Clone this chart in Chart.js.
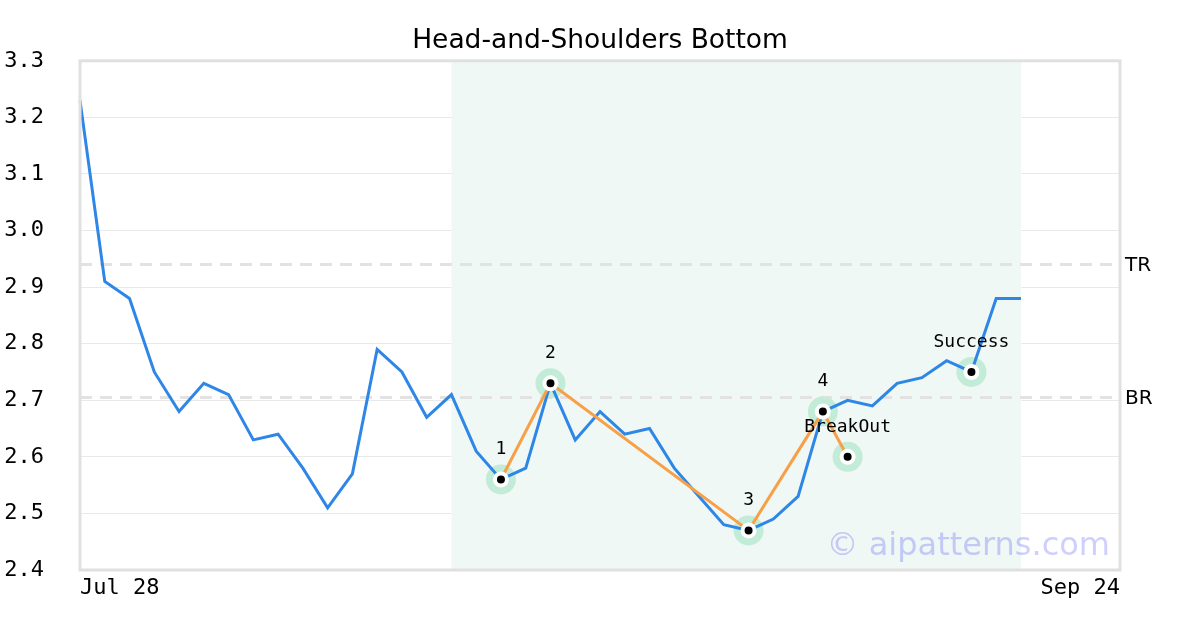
<!DOCTYPE html>
<html>
<head>
<meta charset="utf-8">
<title>Head-and-Shoulders Bottom</title>
<script src="https://cdn.jsdelivr.net/npm/chart.js@4.4.1/dist/chart.umd.min.js"></script>
<style>
  html, body { margin: 0; padding: 0; background: #ffffff; }
  #wrap { width: 1200px; height: 630px; position: relative; }
</style>
</head>
<body>
<div id="wrap"><canvas id="chart" width="1200" height="630"></canvas></div>
<script>
// Trading days shown on the x axis (only the first and last are labelled)
const dates = [
  'Jul 28', 'Jul 29', 'Jul 30', 'Jul 31', 'Aug 1',
  'Aug 4', 'Aug 5', 'Aug 6', 'Aug 7', 'Aug 8',
  'Aug 11', 'Aug 12', 'Aug 13', 'Aug 14', 'Aug 15',
  'Aug 18', 'Aug 19', 'Aug 20', 'Aug 21', 'Aug 22',
  'Aug 25', 'Aug 26', 'Aug 27', 'Aug 28', 'Aug 29',
  'Sep 1', 'Sep 2', 'Sep 3', 'Sep 4', 'Sep 5',
  'Sep 8', 'Sep 9', 'Sep 10', 'Sep 11', 'Sep 12',
  'Sep 15', 'Sep 16', 'Sep 17', 'Sep 18', 'Sep 19',
  'Sep 22', 'Sep 23', 'Sep 24'
];

// Closing prices
const closes = [
  3.23, 2.91, 2.88, 2.75, 2.68, 2.73, 2.71, 2.63, 2.64, 2.58,
  2.51, 2.57, 2.79, 2.75, 2.67, 2.71, 2.61, 2.56, 2.58, 2.73,
  2.63, 2.68, 2.64, 2.65, 2.58, 2.53, 2.48, 2.47, 2.49, 2.53,
  2.68, 2.70, 2.69, 2.73, 2.74, 2.77, 2.75, 2.88, 2.88
];

// Pattern pivots: 1, 2, 3, 4 and the breakout
const pivotIdx = [17, 19, 27, 30, 31];
const pivotVals = [2.56, 2.73, 2.47, 2.68, 2.60];
const pivotText = ['1', '2', '3', '4', 'BreakOut'];

// Target reached
const successIdx = [36];
const successVals = [2.75];
const successText = ['Success'];

// Reference levels
const levelNames = ['TR', 'BR'];
const levelVals = [2.94, 2.705];

// Pattern window (start / end index)
const windowIdx = [15, 38];

const yTicks = [2.4, 2.5, 2.6, 2.7, 2.8, 2.9, 3.0, 3.1, 3.2, 3.3];

const MONO = '"DejaVu Sans Mono", monospace';
const SANS = '"DejaVu Sans", sans-serif';

const closeSeries = dates.map((d, i) => (i < closes.length ? closes[i] : null));
const pivotPoints = pivotIdx.map((i, k) => ({ x: dates[i], y: pivotVals[k] }));
const successPoints = successIdx.map((i, k) => ({ x: dates[i], y: successVals[k] }));
const markerPoints = pivotPoints.concat(successPoints);
const markerText = pivotText.concat(successText);

const levelDatasets = levelVals.map(v => ({
  type: 'line',
  data: dates.map(() => v),
  borderColor: '#e2e2e2',
  borderWidth: 3,
  borderDash: [12, 8],
  pointRadius: 0,
  fill: false,
  order: 9
}));

// Shaded pattern window, frame, captions and watermark
const backdrop = {
  id: 'backdrop',
  beforeDatasetsDraw(chart) {
    const { ctx, chartArea: a, scales: { x } } = chart;
    const x0 = x.getPixelForValue(windowIdx[0]);
    const x1 = x.getPixelForValue(windowIdx[1]);
    ctx.save();
    ctx.fillStyle = '#eff8f4';
    ctx.fillRect(x0, a.top, x1 - x0, a.bottom - a.top);
    ctx.restore();
  },
  afterDatasetsDraw(chart) {
    const { ctx, chartArea: a, scales: { y } } = chart;
    ctx.save();
    ctx.strokeStyle = '#e0e0e0';
    ctx.lineWidth = 3;
    ctx.strokeRect(a.left, a.top, a.right - a.left, a.bottom - a.top);

    // level names to the right of the plot
    ctx.fillStyle = '#000';
    ctx.font = '20px ' + SANS;
    ctx.textAlign = 'left';
    ctx.textBaseline = 'middle';
    levelVals.forEach((v, k) => {
      ctx.fillText(levelNames[k], a.right + 5, y.getPixelForValue(v) + 1);
    });

    // marker captions
    const xs = chart.scales.x;
    ctx.font = '18px ' + MONO;
    ctx.textAlign = 'center';
    ctx.textBaseline = 'middle';
    markerPoints.forEach((p, k) => {
      const px = xs.getPixelForValue(dates.indexOf(p.x));
      const py = y.getPixelForValue(p.y);
      ctx.fillText(markerText[k], px, py - 30);
    });

    // watermark
    ctx.font = '32px ' + SANS;
    ctx.fillStyle = 'rgba(60, 60, 255, 0.25)';
    ctx.textAlign = 'right';
    ctx.textBaseline = 'alphabetic';
    ctx.fillText('\u00a9 aipatterns.com', a.right - 10, a.bottom - 15);
    ctx.restore();
  }
};

new Chart(document.getElementById('chart'), {
  type: 'line',
  data: {
    labels: dates,
    datasets: [
      {
        // soft halo behind markers
        type: 'scatter',
        data: markerPoints,
        pointRadius: 15,
        pointBackgroundColor: '#c2ebd8',
        pointBorderWidth: 0,
        showLine: false,
        order: 8
      },
      ...levelDatasets,
      {
        data: closeSeries,
        borderColor: '#2e86e6',
        borderWidth: 3,
        pointRadius: 0,
        fill: false,
        tension: 0,
        order: 4
      },
      {
        data: pivotPoints,
        borderColor: '#f7a048',
        borderWidth: 3,
        pointRadius: 0,
        fill: false,
        tension: 0,
        order: 3
      },
      {
        type: 'scatter',
        data: markerPoints,
        pointRadius: 6,
        pointBackgroundColor: '#000',
        pointBorderColor: '#fff',
        pointBorderWidth: 4,
        showLine: false,
        order: 1
      }
    ]
  },
  options: {
    responsive: false,
    animation: false,
    events: [],
    layout: { padding: 0 },
    plugins: {
      legend: { display: false },
      tooltip: { enabled: false },
      title: {
        display: true,
        text: 'Head-and-Shoulders Bottom',
        color: '#000',
        font: { family: SANS, size: 26.5, weight: 'normal' },
        padding: { top: 25, bottom: 4 }
      }
    },
    scales: {
      x: {
        type: 'category',
        offset: false,
        grid: { display: false, drawTicks: false },
        border: { display: false },
        ticks: {
          autoSkip: false,
          maxRotation: 0,
          minRotation: 0,
          align: 'inner',
          color: '#000',
          padding: 5,
          font: { family: MONO, size: 22 },
          callback: (v, i) => (i === 0 || i === dates.length - 1 ? dates[i] : '')
        },
        afterFit(s) { s.height = 60; }
      },
      y: {
        min: 2.4,
        max: 3.3,
        grid: { color: '#e9e9e9', lineWidth: 1, drawTicks: false },
        border: { display: false },
        afterBuildTicks(s) { s.ticks = yTicks.map(v => ({ value: v })); },
        ticks: {
          crossAlign: 'near',
          padding: 36,
          color: '#000',
          font: { family: MONO, size: 22 },
          callback: v => v.toFixed(1)
        },
        afterFit(s) { s.width = 80; }
      },
      // empty right-hand gutter that keeps room for the level names
      gutter: {
        type: 'linear',
        position: 'right',
        display: true,
        grid: { display: false, drawTicks: false },
        border: { display: false },
        ticks: { display: false },
        afterFit(s) { s.width = 80; }
      }
    }
  },
  plugins: [backdrop]
});
</script>
</body>
</html>
